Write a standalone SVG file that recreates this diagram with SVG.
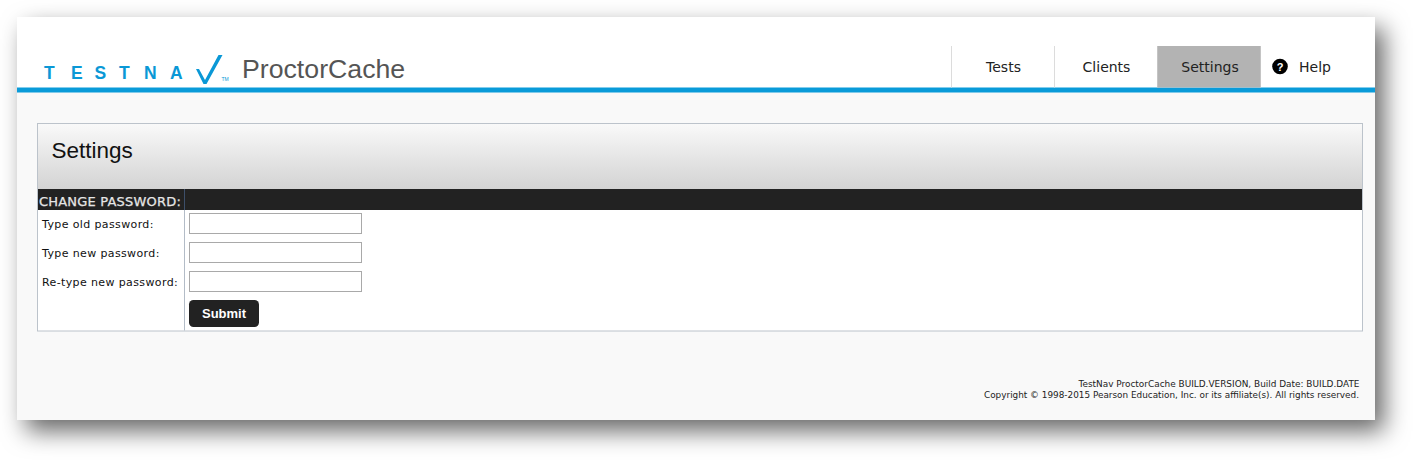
<svg xmlns="http://www.w3.org/2000/svg" width="1423" height="468" viewBox="0 0 1423 468">
<defs>
<filter id="shadow" x="-5%" y="-20%" width="112%" height="150%">
<feDropShadow dx="9" dy="11" stdDeviation="12" flood-color="#000" flood-opacity="0.6"/>
</filter>
<linearGradient id="hdr" x1="0" y1="0" x2="0" y2="1">
<stop offset="0" stop-color="#f9f9f9"/>
<stop offset="1" stop-color="#d3d3d3"/>
</linearGradient>
<style>
.logo{font-family:"Liberation Sans",Arial,sans-serif;font-weight:bold;font-size:17.5px;fill:#0a98d6}
.nav{font-family:"DejaVu Sans",Verdana,sans-serif;font-size:14px;fill:#222;text-anchor:middle}
.lbl{font-family:"DejaVu Sans",Verdana,sans-serif;font-size:11px;letter-spacing:0.38px;fill:#111}
.inp{fill:#fff;stroke:#a9a9a9;stroke-width:1}
.foot{font-family:"DejaVu Sans",Verdana,sans-serif;font-size:9.5px;fill:#222;text-anchor:end}
.sep{stroke:#dcdcdc;stroke-width:1}
</style>
</defs>
<rect width="1423" height="468" fill="#fff"/>
<g id="page">
<rect x="17" y="17" width="1358" height="403" fill="#f9f9f9" filter="url(#shadow)"/>
<rect x="17" y="17" width="1358" height="71" fill="#fff"/>
<rect x="17" y="87.5" width="1358" height="5" fill="#0a9bd9"/>
</g>
<g id="logo">
<text class="logo" x="44" y="79">T</text>
<text class="logo" x="71" y="79">E</text>
<text class="logo" x="94.5" y="79">S</text>
<text class="logo" x="119" y="79">T</text>
<text class="logo" x="144" y="79">N</text>
<text class="logo" x="170" y="79">A</text>
<polygon points="196,69 199,69 205,80 218.5,55 222.5,55 206.5,84 203.5,84" fill="#0a98d6"/>
<text x="221.5" y="80.5" font-family="Liberation Sans,Arial,sans-serif" font-size="5" fill="#0a98d6">TM</text>
<text x="242" y="78" font-family="Liberation Sans,Arial,sans-serif" font-size="26.7" fill="#555">ProctorCache</text>
</g>
<g id="nav">
<line class="sep" x1="951.5" y1="46" x2="951.5" y2="87.5"/>
<line class="sep" x1="1054.5" y1="46" x2="1054.5" y2="87.5"/>
<rect x="1157" y="46" width="103.5" height="41.5" fill="#b3b3b3"/>
<line x1="1157.5" y1="46" x2="1157.5" y2="87.5" stroke="#c4c4c4"/>
<line x1="1260.5" y1="46" x2="1260.5" y2="87.5" stroke="#c4c4c4"/>
<text class="nav" x="1003.5" y="72">Tests</text>
<text class="nav" x="1106.5" y="72">Clients</text>
<text class="nav" x="1210" y="72">Settings</text>
<circle cx="1280" cy="66.5" r="7.8" fill="#000"/>
<text x="1280" y="70.5" font-family="Liberation Sans,Arial,sans-serif" font-weight="bold" font-size="11" fill="#fff" text-anchor="middle">?</text>
<text x="1299" y="72" font-family="DejaVu Sans,Verdana,sans-serif" font-size="14" fill="#222">Help</text>
</g>
<g id="settings-panel">
<rect x="37.5" y="123.5" width="1325" height="207.5" fill="#fff" stroke="#bcc3cb"/>
<rect x="38" y="124" width="1324" height="65" fill="url(#hdr)"/>
<text x="51.5" y="158" font-family="Liberation Sans,Arial,sans-serif" font-size="22.5" fill="#111">Settings</text>
<rect x="38" y="189" width="1324" height="21" fill="#222"/>
<line x1="184.5" y1="189" x2="184.5" y2="210" stroke="#3d4f6a"/>
<line x1="184.5" y1="210" x2="184.5" y2="330.5" stroke="#b3bcc7"/>
<text x="39" y="206" font-family="DejaVu Sans,Verdana,sans-serif" font-size="13" letter-spacing="0.2" stroke="#e6e6e6" stroke-width="0.25" fill="#e6e6e6">CHANGE PASSWORD:</text>
</g>
<g id="field-old">
<text class="lbl" x="42" y="227.5">Type old password:</text>
<rect class="inp" x="189.5" y="213.5" width="172" height="20"/>
</g>
<g id="field-new">
<text class="lbl" x="42" y="256.5">Type new password:</text>
<rect class="inp" x="189.5" y="242.5" width="172" height="20"/>
</g>
<g id="field-retype">
<text class="lbl" x="42" y="285.5">Re-type new password:</text>
<rect class="inp" x="189.5" y="271.5" width="172" height="20"/>
</g>
<g id="submit">
<rect x="189" y="300" width="70" height="27" rx="4.5" fill="#222"/>
<text x="224" y="318" font-family="Liberation Sans,Arial,sans-serif" font-weight="bold" font-size="13" fill="#fff" text-anchor="middle">Submit</text>
</g>
<g id="footer">
<text class="foot" x="1359.5" y="387" textLength="281" lengthAdjust="spacingAndGlyphs">TestNav ProctorCache BUILD.VERSION, Build Date: BUILD.DATE</text>
<text class="foot" x="1359" y="398" textLength="375" lengthAdjust="spacingAndGlyphs">Copyright © 1998-2015 Pearson Education, Inc. or its affiliate(s). All rights reserved.</text>
</g>
<g id="connectors"/>
</svg>
